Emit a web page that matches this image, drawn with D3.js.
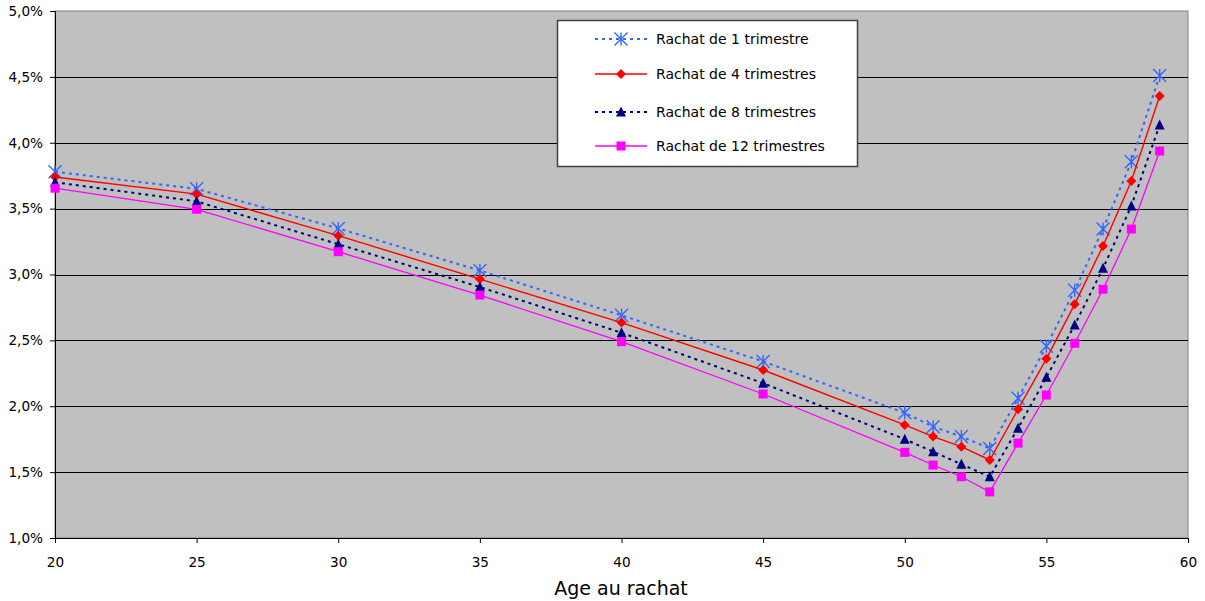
<!DOCTYPE html>
<html>
<head>
<meta charset="utf-8">
<script src="https://cdn.jsdelivr.net/npm/d3@7"></script>
<style>
  body { margin: 0; background: #fff; }
  svg text { font-family: "DejaVu Sans", Verdana, sans-serif; fill: #000; }
</style>
</head>
<body>
<div id="chart"></div>
<script>
// ages (x axis)
const ages = [20, 25, 30, 35, 40, 45, 50, 51, 52, 53, 54, 55, 56, 57, 58, 59];

// values in %
const rachat1 = [3.78, 3.65, 3.35, 3.03, 2.69, 2.34, 1.95, 1.845, 1.77, 1.68, 2.06, 2.455, 2.88, 3.345, 3.855, 4.51];
const rachat4 = [3.74, 3.61, 3.295, 2.965, 2.635, 2.275, 1.858, 1.77, 1.693, 1.592, 1.977, 2.36, 2.775, 3.217, 3.71, 4.355];
const rachat8 = [3.70, 3.555, 3.23, 2.905, 2.558, 2.175, 1.75, 1.655, 1.56, 1.465, 1.833, 2.22, 2.617, 3.047, 3.52, 4.135];
const rachat12 = [3.655, 3.495, 3.173, 2.844, 2.49, 2.093, 1.65, 1.554, 1.465, 1.35, 1.72, 2.085, 2.478, 2.888, 3.345, 3.937];

const seriesNames = ['Rachat de 1 trimestre', 'Rachat de 4 trimestres', 'Rachat de 8 trimestres', 'Rachat de 12 trimestres'];
const xTicks = [20, 25, 30, 35, 40, 45, 50, 55, 60];
const yTicks = [1.0, 1.5, 2.0, 2.5, 3.0, 3.5, 4.0, 4.5, 5.0];
const xTitle = 'Age au rachat';

const series = [
  { name: seriesNames[0], values: rachat1, color: '#3366FF', dash: '3,4', width: 2, marker: 'star' },
  { name: seriesNames[1], values: rachat4, color: '#FF0000', dash: null, width: 1.4, marker: 'diamond' },
  { name: seriesNames[2], values: rachat8, color: '#000080', dash: '3,4', width: 2, marker: 'triangle' },
  { name: seriesNames[3], values: rachat12, color: '#FF00FF', dash: null, width: 1.3, marker: 'square' }
];

const width = 1205, height = 601;
const plot = { left: 55, right: 1188, top: 11, bottom: 538 };

const svg = d3.select('#chart').append('svg')
  .attr('width', width)
  .attr('height', height);

const x = d3.scaleLinear().domain([20, 60]).range([plot.left, plot.right]);
const y = d3.scaleLinear().domain([1, 5]).range([plot.bottom, plot.top]);

// plot background
svg.append('rect')
  .attr('x', plot.left).attr('y', plot.top)
  .attr('width', plot.right - plot.left).attr('height', plot.bottom - plot.top)
  .attr('fill', '#C0C0C0')
  .attr('stroke', '#808080')
  .attr('stroke-width', 1);

// gridlines
svg.append('g')
  .selectAll('line')
  .data(yTicks.filter(d => d > 1 && d < 5))
  .join('line')
  .attr('x1', plot.left).attr('x2', plot.right)
  .attr('y1', d => Math.round(y(d)) + 0.5).attr('y2', d => Math.round(y(d)) + 0.5)
  .attr('stroke', '#000').attr('stroke-width', 1);

// axes
const fmt = d => d.toFixed(1).replace('.', ',') + '%';

const yAxis = svg.append('g')
  .attr('transform', `translate(${plot.left},0)`)
  .call(d3.axisLeft(y).tickValues(yTicks).tickFormat(fmt).tickSize(5).tickPadding(7));
yAxis.selectAll('text').style('font-size', '13.6px');
yAxis.select('.domain').attr('stroke', '#000');

const xAxis = svg.append('g')
  .attr('transform', `translate(0,${plot.bottom})`)
  .call(d3.axisBottom(x).tickValues(xTicks).tickFormat(d3.format('d')).tickSize(5).tickPadding(14));
xAxis.selectAll('text').style('font-size', '13.6px');
xAxis.select('.domain').attr('stroke', '#000');

svg.append('text')
  .attr('x', 621).attr('y', 595)
  .attr('text-anchor', 'middle')
  .style('font-size', '19px')
  .text(xTitle);

// markers
function drawMarker(g, type, color) {
  if (type === 'star') {
    const r = 6.5;
    g.append('path')
      .attr('d', `M0,${-r}L0,${r}M${-r},${-r}L${r},${r}M${-r},${r}L${r},${-r}`)
      .attr('stroke', color).attr('stroke-width', 1.4).attr('fill', 'none');
  } else if (type === 'diamond') {
    g.append('path').attr('d', 'M0,-5L5,0L0,5L-5,0Z').attr('fill', color);
  } else if (type === 'triangle') {
    g.append('path').attr('d', 'M0,-5.5L5,4.5L-5,4.5Z').attr('fill', color);
  } else {
    g.append('rect').attr('x', -4.5).attr('y', -4.5).attr('width', 9).attr('height', 9).attr('fill', color);
  }
}

const line = d3.line().x(d => x(d[0])).y(d => y(d[1]));

series.forEach(s => {
  const pts = ages.map((a, i) => [a, s.values[i]]);
  const g = svg.append('g');
  g.append('path')
    .datum(pts)
    .attr('d', line)
    .attr('fill', 'none')
    .attr('stroke', s.color)
    .attr('stroke-width', s.width)
    .attr('stroke-dasharray', s.dash);
  pts.forEach(p => {
    const m = g.append('g').attr('transform', `translate(${x(p[0])},${y(p[1])})`);
    drawMarker(m, s.marker, s.color);
  });
});

// legend
const legend = svg.append('g');
legend.append('rect')
  .attr('x', 557.5).attr('y', 20.5)
  .attr('width', 300).attr('height', 146)
  .attr('fill', '#fff')
  .attr('stroke', '#404040').attr('stroke-width', 1.5);

const legendRows = [39, 74, 112, 146];
series.forEach((s, i) => {
  const ly = legendRows[i];
  legend.append('line')
    .attr('x1', 595).attr('x2', 647)
    .attr('y1', ly).attr('y2', ly)
    .attr('stroke', s.color)
    .attr('stroke-width', s.width)
    .attr('stroke-dasharray', s.dash);
  drawMarker(legend.append('g').attr('transform', `translate(621,${ly})`), s.marker, s.color);
  legend.append('text')
    .attr('x', 656).attr('y', ly)
    .attr('dy', '0.36em')
    .style('font-size', '14px')
    .text(s.name);
});
</script>
</body>
</html>
